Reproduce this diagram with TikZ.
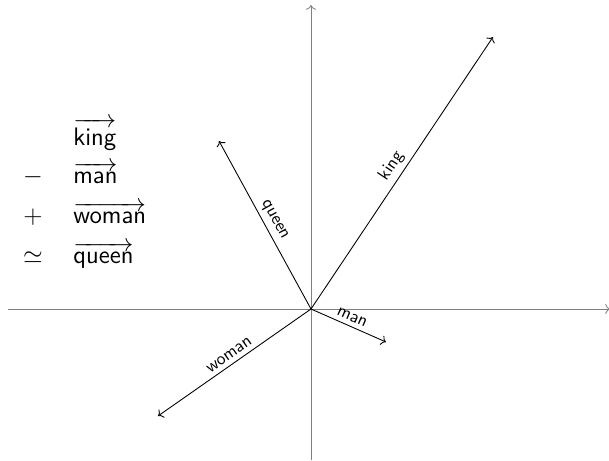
\documentclass[tikz,border=0pt]{standalone}
\usepackage{amsmath}
\usepackage{tikz}
\usetikzlibrary{arrows.meta, positioning}

\begin{document}
\begin{tikzpicture}[
  every node/.style={font=\sffamily},
  axis/.style={->, draw=gray, line width=0.5pt},
  vec/.style={->, draw=black, line width=0.5pt},
  vlbl/.style={font=\normalsize\sffamily, midway, sloped, above, inner sep=2.5pt},
  sym/.style={anchor=base, font=\Large},
  word/.style={anchor=base west, font=\Large\sffamily, inner sep=0pt},
]
\useasboundingbox (-6.22,-3.02) rectangle (5.96,6.18);

\coordinate (O) at (0,0);
\coordinate (xl) at (-6.06,0);
\coordinate (xr) at (5.98,0);
\coordinate (yb) at (0,-3.02);
\coordinate (yt) at (0,6.08);

\coordinate (king)  at ( 3.64, 5.44);
\coordinate (queen) at (-1.84, 3.36);
\coordinate (man)   at ( 1.50,-0.66);
\coordinate (woman) at (-3.06,-2.14);

% axes
\draw[axis] (xl) -- (xr);
\draw[axis] (yb) -- (yt);

% word vectors
\draw[vec] (O) -- node[vlbl]{king} (king);
\draw[vec] (O) -- node[vlbl]{queen} (queen);
\draw[vec] (O) -- node[vlbl]{man} (man);
\draw[vec] (O) -- node[vlbl]{woman} (woman);

% the analogy
\node[word] (wking)  at (-4.76, 3.28) {$\overrightarrow{\textsf{king}}$};
\node[word] (wman)   at (-4.76, 2.52) {$\overrightarrow{\textsf{man}}$};
\node[word] (wwoman) at (-4.76, 1.72) {$\overrightarrow{\textsf{woman}}$};
\node[word] (wqueen) at (-4.76, 0.92) {$\overrightarrow{\textsf{queen}}$};

\node[sym] (minus) at (-5.56, 2.52) {$-$};
\node[sym] (plus)  at (-5.56, 1.72) {$+$};
\node[sym] (simeq) at (-5.56, 0.92) {$\simeq$};

\end{tikzpicture}
\end{document}
